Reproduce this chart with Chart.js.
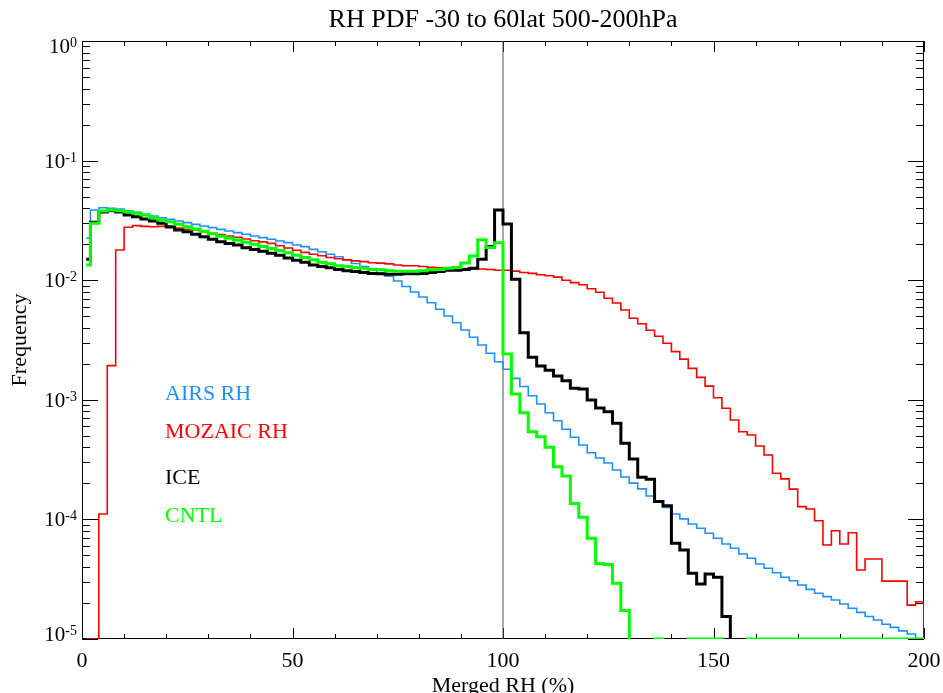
<!DOCTYPE html>
<html>
<head>
<meta charset="utf-8">
<title>RH PDF</title>
<script src="https://cdn.jsdelivr.net/npm/chart.js@4.4.1/dist/chart.umd.min.js"></script>
<style>
  html, body { margin: 0; padding: 0; background: #fff; }
  #wrap { width: 943px; height: 693px; position: relative; }
</style>
</head>
<body>
<div id="wrap"><canvas id="graficoRH"></canvas></div>
<script>
// textos do grafico
const titulo = 'RH PDF -30 to 60lat 500-200hPa';
const xLabel = 'Merged RH (%)';
const yLabel = 'Frequency';
const xTickLabels = [0, 50, 100, 150, 200];
const yTickExpoentes = [0, -1, -2, -3, -4, -5];
const nomesSeries = ['AIRS RH', 'MOZAIC RH', 'ICE', 'CNTL'];

// frequencia por classe de 2% (0-2, 2-4, ... 198-200); 0 = classe vazia
const airsRH = [
  0.0224, 0.0386, 0.0404, 0.0399, 0.0394, 0.0381, 0.0370, 0.0356, 0.0344, 0.0333,
  0.0323, 0.0313, 0.0303, 0.0293, 0.0284, 0.0275, 0.0266, 0.0258, 0.0250, 0.0242,
  0.0234, 0.0227, 0.0220, 0.0213, 0.0206, 0.0197, 0.0191, 0.0181, 0.0173, 0.0165,
  0.0157, 0.0148, 0.0138, 0.0130, 0.0122, 0.0114, 0.0108, 0.00985, 0.00886, 0.00797,
  0.00724, 0.00648, 0.00571, 0.00502, 0.00441, 0.00383, 0.00333, 0.00287, 0.00245, 0.00208,
  0.00180, 0.00151, 0.00129, 0.00108, 0.000922, 0.000780, 0.000669, 0.000567, 0.000486, 0.000419,
  0.000361, 0.000326, 0.000296, 0.000259, 0.000226, 0.000201, 0.000180, 0.000157, 0.000140, 0.000126,
  0.000111, 0.000101, 9.15e-5, 8.43e-5, 7.65e-5, 6.95e-5, 6.23e-5, 5.73e-5, 5.14e-5, 4.73e-5,
  4.24e-5, 3.90e-5, 3.58e-5, 3.28e-5, 3.07e-5, 2.83e-5, 2.60e-5, 2.41e-5, 2.26e-5, 2.12e-5,
  1.96e-5, 1.81e-5, 1.67e-5, 1.54e-5, 1.44e-5, 1.33e-5, 1.25e-5, 1.17e-5, 1.10e-5, 1.01e-5
];
const mozaicRH = [
  1e-5, 1e-5, 1.11e-4, 0.00193, 0.0179, 0.0277, 0.0286, 0.0282, 0.0280, 0.0282,
  0.0275, 0.0273, 0.0267, 0.0263, 0.0254, 0.0247, 0.0241, 0.0234, 0.0228, 0.0221,
  0.0214, 0.0209, 0.0203, 0.0194, 0.0186, 0.0178, 0.0171, 0.0165, 0.0160, 0.0155,
  0.0151, 0.0148, 0.0145, 0.0143, 0.0140, 0.0139, 0.0137, 0.0134, 0.0132, 0.0132,
  0.0130, 0.0128, 0.0127, 0.0127, 0.0126, 0.0125, 0.0125, 0.0124, 0.0123, 0.0121,
  0.0121, 0.0119, 0.0116, 0.0114, 0.0111, 0.0109, 0.0106, 0.0100, 0.00955, 0.00915,
  0.00849, 0.00794, 0.00706, 0.00645, 0.00563, 0.00480, 0.00433, 0.00381, 0.00340, 0.00297,
  0.00253, 0.00219, 0.00183, 0.00154, 0.00130, 0.00104, 0.000849, 0.000678, 0.000541, 0.000508,
  0.000411, 0.000346, 0.000243, 0.000218, 0.000179, 0.000128, 0.000122, 9.75e-5, 6.11e-5, 8.04e-5,
  6.23e-5, 7.74e-5, 3.77e-5, 4.67e-5, 4.67e-5, 3.05e-5, 3.05e-5, 3.05e-5, 1.92e-5, 2.05e-5
];
const ice = [
  0.0150, 0.0305, 0.0372, 0.0380, 0.0372, 0.0351, 0.0340, 0.0325, 0.0313, 0.0299,
  0.0280, 0.0263, 0.0254, 0.0242, 0.0231, 0.0220, 0.0210, 0.0203, 0.0197, 0.0187,
  0.0181, 0.0175, 0.0168, 0.0162, 0.0153, 0.0147, 0.0141, 0.0134, 0.0130, 0.0127,
  0.0123, 0.0120, 0.0118, 0.0116, 0.0114, 0.0113, 0.0112, 0.0112, 0.0113, 0.0113,
  0.0114, 0.0116, 0.0118, 0.0121, 0.0121, 0.0123, 0.0126, 0.0150, 0.0191, 0.0386,
  0.0295, 0.0102, 0.00364, 0.00227, 0.00192, 0.00177, 0.00158, 0.00144, 0.00125, 0.00123,
  0.000996, 0.000854, 0.000795, 0.000636, 0.000433, 0.000320, 0.000225, 0.000217, 0.000141, 0.000130,
  6.31e-5, 5.55e-5, 3.54e-5, 2.88e-5, 3.50e-5, 3.28e-5, 1.54e-5, 0, 0, 0,
  0, 0, 0, 0, 0, 0, 0, 0, 0, 0,
  0, 0, 0, 0, 0, 0, 0, 0, 0, 0
];
const cntl = [
  0.0134, 0.0299, 0.0379, 0.0386, 0.0381, 0.0374, 0.0363, 0.0351, 0.0333, 0.0319,
  0.0308, 0.0293, 0.0280, 0.0268, 0.0256, 0.0245, 0.0233, 0.0224, 0.0216, 0.0208,
  0.0200, 0.0191, 0.0184, 0.0177, 0.0170, 0.0162, 0.0155, 0.0148, 0.0141, 0.0137,
  0.0132, 0.0130, 0.0127, 0.0126, 0.0123, 0.0122, 0.0120, 0.0119, 0.0119, 0.0119,
  0.0120, 0.0122, 0.0123, 0.0126, 0.0128, 0.0139, 0.0159, 0.0218, 0.0188, 0.0206,
  0.00242, 0.00112, 0.000780, 0.000541, 0.000491, 0.000401, 0.000276, 0.000231, 0.000136, 0.000104,
  6.95e-5, 4.26e-5, 4.20e-5, 2.92e-5, 1.73e-5, 0, 0, 0, 1e-5, 0,
  0, 0, 1e-5, 1e-5, 1e-5, 1e-5, 0, 0, 0, 1e-5,
  1e-5, 1e-5, 1e-5, 1e-5, 1e-5, 1e-5, 1e-5, 1e-5, 1e-5, 1e-5,
  1e-5, 1e-5, 1e-5, 1e-5, 1e-5, 1e-5, 1e-5, 1e-5, 1e-5, 1e-5
];

const cores = { airs: '#1E90FF', mozaic: '#FF0000', ice: '#000000', cntl: '#00FF00' };
const fonte = '"Liberation Serif", "DejaVu Serif", serif';

// pontos do degrau: a primeira classe comeca no centro (1%), as demais na borda esquerda
const montarPontos = (serie) => {
  const pts = serie.map((v, i) => ({ x: i === 0 ? 1 : 2 * i, y: v > 0 ? v : 1e-9 }));
  pts.push({ x: 2 * serie.length, y: 1e-9 }); // fecha o ultimo degrau em 200
  return pts;
};

const linhaSerie = (serie, cor, largura) => ({
  data: montarPontos(serie),
  borderColor: cor,
  borderWidth: largura,
  stepped: 'before',
  pointRadius: 0,
  fill: false
});

// caixa com marcas internas no estilo IDL + textos
const eixosIDL = {
  id: 'eixosIDL',
  beforeDatasetsDraw(chart) {
    const { ctx, chartArea: a, scales: { x, y } } = chart;
    ctx.save();
    ctx.strokeStyle = '#000';
    ctx.lineWidth = 1;
    ctx.strokeRect(a.left + 0.5, a.top + 0.5, a.right - a.left - 1, a.bottom - a.top - 1);
    ctx.beginPath();
    for (let v = 0; v <= 200; v += 10) {
      const px = Math.round(x.getPixelForValue(v)) + 0.5;
      const len = v % 50 === 0 ? 11 : 5;
      ctx.moveTo(px, a.bottom); ctx.lineTo(px, a.bottom - len);
      ctx.moveTo(px, a.top); ctx.lineTo(px, a.top + len);
    }
    for (let e = -5; e < 0; e++) {
      for (let m = 1; m <= 9; m++) {
        const py = Math.round(y.getPixelForValue(m * Math.pow(10, e))) + 0.5;
        const len = m === 1 ? 16 : 8;
        ctx.moveTo(a.left, py); ctx.lineTo(a.left + len, py);
        ctx.moveTo(a.right, py); ctx.lineTo(a.right - len, py);
      }
    }
    ctx.stroke();
    ctx.restore();
  },
  afterDraw(chart) {
    const { ctx, chartArea: a, scales: { x, y } } = chart;
    ctx.save();
    ctx.fillStyle = '#000';

    // titulo
    ctx.font = `26px ${fonte}`;
    ctx.textAlign = 'center';
    ctx.textBaseline = 'alphabetic';
    ctx.fillText(titulo, (a.left + a.right) / 2, 27);

    // rotulos do eixo x
    ctx.font = `22px ${fonte}`;
    xTickLabels.forEach(v => ctx.fillText(String(v), x.getPixelForValue(v), 667));
    ctx.fillText(xLabel, (a.left + a.right) / 2, 692);

    // rotulos do eixo y: 10 com expoente sobrescrito
    yTickExpoentes.forEach(e => {
      let cy = y.getPixelForValue(Math.pow(10, e));
      if (e === 0) cy += 5;
      if (e === -5) cy -= 5;
      const exp = String(e);
      ctx.font = `14px ${fonte}`;
      const wExp = ctx.measureText(exp).width;
      ctx.textAlign = 'left';
      ctx.fillText(exp, 77 - wExp, cy + 1);
      ctx.font = `21px ${fonte}`;
      ctx.textAlign = 'right';
      ctx.fillText('10', 77 - wExp, cy + 7);
    });

    // titulo do eixo y
    ctx.save();
    ctx.translate(26, (a.top + a.bottom) / 2);
    ctx.rotate(-Math.PI / 2);
    ctx.font = `22px ${fonte}`;
    ctx.textAlign = 'center';
    ctx.fillText(yLabel, 0, 0);
    ctx.restore();

    // legenda em texto colorido
    const legY = [400, 438, 484, 522];
    const legCor = [cores.airs, cores.mozaic, cores.ice, cores.cntl];
    ctx.font = `22px ${fonte}`;
    ctx.textAlign = 'left';
    nomesSeries.forEach((nome, i) => {
      ctx.fillStyle = legCor[i];
      ctx.fillText(nome, 165, legY[i]);
    });
    ctx.restore();
  }
};

const ctx = document.getElementById('graficoRH').getContext('2d');

window.graficoRH = new Chart(ctx, {
  type: 'line',
  data: {
    datasets: [
      linhaSerie(cntl, cores.cntl, 3),
      linhaSerie(ice, cores.ice, 3),
      linhaSerie(mozaicRH, cores.mozaic, 1.6),
      linhaSerie(airsRH, cores.airs, 1.6),
      {
        // linha de referencia em 100%
        data: [{ x: 100, y: 1e-5 }, { x: 100, y: 1 }],
        borderColor: '#555',
        borderWidth: 1,
        pointRadius: 0,
        fill: false
      }
    ]
  },
  options: {
    responsive: true,
    maintainAspectRatio: false,
    devicePixelRatio: 1,
    animation: false,
    layout: { padding: { top: 41, right: 19, left: 0, bottom: 0 } },
    plugins: { legend: { display: false }, tooltip: { enabled: false }, title: { display: false } },
    scales: {
      x: {
        type: 'linear', min: 0, max: 200,
        ticks: { display: false },
        grid: { display: false },
        border: { display: false },
        afterFit: s => { s.height = 54; }
      },
      y: {
        type: 'logarithmic', min: 1e-5, max: 1,
        ticks: { display: false },
        grid: { display: false },
        border: { display: false },
        afterFit: s => { s.width = 82; }
      }
    }
  },
  plugins: [eixosIDL]
});
</script>
</body>
</html>
